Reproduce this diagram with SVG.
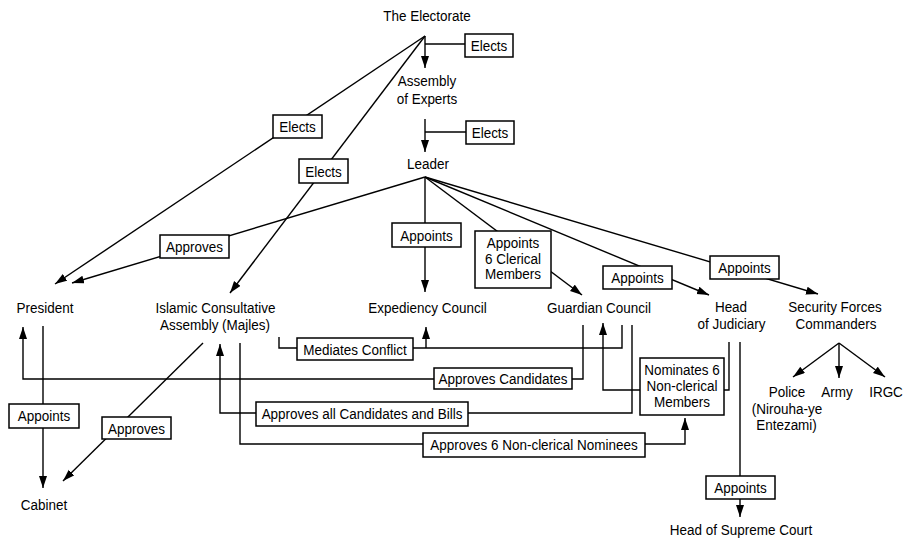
<svg xmlns="http://www.w3.org/2000/svg" width="904" height="539" viewBox="0 0 904 539">
<style>
.t{font-family:"Liberation Sans",Arial,sans-serif;font-size:15.5px;fill:#000;text-anchor:middle}
.c{fill:none;stroke:#000;stroke-width:1.4}
.b{fill:#fff;stroke:#000;stroke-width:1.5}
</style>
<defs>
<marker id="ar" markerUnits="userSpaceOnUse" markerWidth="13" markerHeight="9" refX="12" refY="4" orient="auto">
<path d="M0,0 L12,4 L0,8 z" fill="#000"/>
</marker>
</defs>
<rect width="904" height="539" fill="#fff"/>
<g id="connectors">
<path class="c" d="M425,36 V68" marker-end="url(#ar)"/>
<path class="c" d="M425,44 H465"/>
<path class="c" d="M425,119 V152" marker-end="url(#ar)"/>
<path class="c" d="M425,132 H466"/>
<path class="c" d="M425,36 L55,284" marker-end="url(#ar)"/>
<path class="c" d="M425,36 L230,293" marker-end="url(#ar)"/>
<path class="c" d="M425,177 L72,283" marker-end="url(#ar)"/>
<path class="c" d="M425,177 V292" marker-end="url(#ar)"/>
<path class="c" d="M425,177 L582,295" marker-end="url(#ar)"/>
<path class="c" d="M425,177 L709,295" marker-end="url(#ar)"/>
<path class="c" d="M425,177 L818,294" marker-end="url(#ar)"/>
<path class="c" d="M43,326 V488" marker-end="url(#ar)"/>
<path class="c" d="M203,343 L63,481" marker-end="url(#ar)"/>
<path class="c" d="M583,325 V379 H23 V327" marker-end="url(#ar)"/>
<path class="c" d="M622,325 V348 H279 V337"/>
<path class="c" d="M426,348 V327" marker-end="url(#ar)"/>
<path class="c" d="M632,325 V413 H220 V344" marker-end="url(#ar)"/>
<path class="c" d="M240,343 V444 H685 V418" marker-end="url(#ar)"/>
<path class="c" d="M640,390 H603 V323" marker-end="url(#ar)"/>
<path class="c" d="M729,342 V390 H724"/>
<path class="c" d="M740,342 V517" marker-end="url(#ar)"/>
<path class="c" d="M839,343 L793,377" marker-end="url(#ar)"/>
<path class="c" d="M839,343 V378" marker-end="url(#ar)"/>
<path class="c" d="M839,343 L885,377" marker-end="url(#ar)"/>
</g>
<g id="edge-labels">
<g id="lbl-elects-aoe"><rect class="b" x="465" y="34" width="48" height="23"/><text class="t" transform="translate(489,51) scale(.87,1)">Elects</text></g>
<g id="lbl-elects-leader"><rect class="b" x="466" y="121" width="48" height="23"/><text class="t" transform="translate(490,138) scale(.87,1)">Elects</text></g>
<g id="lbl-elects-president"><rect class="b" x="273" y="115" width="49" height="23"/><text class="t" transform="translate(297.5,132) scale(.87,1)">Elects</text></g>
<g id="lbl-elects-majles"><rect class="b" x="299" y="159" width="49" height="24"/><text class="t" transform="translate(323.5,176.5) scale(.87,1)">Elects</text></g>
<g id="lbl-approves-president"><rect class="b" x="160" y="235" width="69" height="23"/><text class="t" transform="translate(194.5,252) scale(.87,1)">Approves</text></g>
<g id="lbl-appoints-expediency"><rect class="b" x="392" y="223" width="69" height="24"/><text class="t" transform="translate(426.5,240.5) scale(.87,1)">Appoints</text></g>
<g id="lbl-appoints-clerical"><rect class="b" x="475" y="231" width="76" height="57"/>
<text class="t" transform="translate(513,248) scale(.87,1)">Appoints</text>
<text class="t" transform="translate(513,263.5) scale(.87,1)">6 Clerical</text>
<text class="t" transform="translate(513,279) scale(.87,1)">Members</text></g>
<g id="lbl-appoints-judiciary"><rect class="b" x="603" y="266" width="69" height="23"/><text class="t" transform="translate(637.5,283) scale(.87,1)">Appoints</text></g>
<g id="lbl-appoints-security"><rect class="b" x="710" y="256" width="69" height="23"/><text class="t" transform="translate(744.5,273) scale(.87,1)">Appoints</text></g>
<g id="lbl-mediates"><rect class="b" x="297" y="338" width="116" height="22"/><text class="t" transform="translate(355,354.5) scale(.87,1)">Mediates Conflict</text></g>
<g id="lbl-approves-candidates"><rect class="b" x="434" y="368" width="138" height="21"/><text class="t" transform="translate(503,384) scale(.87,1)">Approves Candidates</text></g>
<g id="lbl-approves-bills"><rect class="b" x="256" y="402" width="212" height="24"/><text class="t" transform="translate(362,418.5) scale(.87,1)">Approves all Candidates and Bills</text></g>
<g id="lbl-approves-nominees"><rect class="b" x="423" y="433" width="222" height="24"/><text class="t" transform="translate(534,450) scale(.87,1)">Approves 6 Non-clerical Nominees</text></g>
<g id="lbl-nominates"><rect class="b" x="640" y="358" width="84" height="57"/>
<text class="t" transform="translate(682,375) scale(.87,1)">Nominates 6</text>
<text class="t" transform="translate(682,391) scale(.87,1)">Non-clerical</text>
<text class="t" transform="translate(682,407) scale(.87,1)">Members</text></g>
<g id="lbl-appoints-cabinet"><rect class="b" x="9" y="404" width="70" height="24"/><text class="t" transform="translate(44,421) scale(.87,1)">Appoints</text></g>
<g id="lbl-approves-cabinet"><rect class="b" x="102" y="417" width="69" height="22"/><text class="t" transform="translate(136.5,433.5) scale(.87,1)">Approves</text></g>
<g id="lbl-appoints-court"><rect class="b" x="706" y="476" width="69" height="23"/><text class="t" transform="translate(740.5,493) scale(.87,1)">Appoints</text></g>
</g>
<g id="electorate"><text class="t" transform="translate(427,21) scale(.87,1)">The Electorate</text></g>
<g id="assembly-of-experts"><text class="t" transform="translate(427,86) scale(.87,1)">Assembly</text><text class="t" transform="translate(427,104) scale(.87,1)">of Experts</text></g>
<g id="leader"><text class="t" transform="translate(428,169) scale(.87,1)">Leader</text></g>
<g id="president"><text class="t" transform="translate(45,313) scale(.87,1)">President</text></g>
<g id="majles"><text class="t" transform="translate(215.5,313) scale(.87,1)">Islamic Consultative</text><text class="t" transform="translate(215,330) scale(.87,1)">Assembly (Majles)</text></g>
<g id="expediency-council"><text class="t" transform="translate(427.5,313) scale(.87,1)">Expediency Council</text></g>
<g id="guardian-council"><text class="t" transform="translate(599,313) scale(.87,1)">Guardian Council</text></g>
<g id="head-of-judiciary"><text class="t" transform="translate(731,312) scale(.87,1)">Head</text><text class="t" transform="translate(731.5,329) scale(.87,1)">of Judiciary</text></g>
<g id="security-forces"><text class="t" transform="translate(835,312) scale(.87,1)">Security Forces</text><text class="t" transform="translate(836,329) scale(.87,1)">Commanders</text></g>
<g id="cabinet"><text class="t" transform="translate(44,510) scale(.87,1)">Cabinet</text></g>
<g id="police"><text class="t" transform="translate(787,397) scale(.87,1)">Police</text><text class="t" transform="translate(787,414) scale(.87,1)">(Nirouha-ye</text><text class="t" transform="translate(786.5,430) scale(.87,1)">Entezami)</text></g>
<g id="army"><text class="t" transform="translate(837,397) scale(.87,1)">Army</text></g>
<g id="irgc"><text class="t" transform="translate(886,397) scale(.87,1)">IRGC</text></g>
<g id="head-of-supreme-court"><text class="t" transform="translate(741,535) scale(.87,1)">Head of Supreme Court</text></g>
</svg>
